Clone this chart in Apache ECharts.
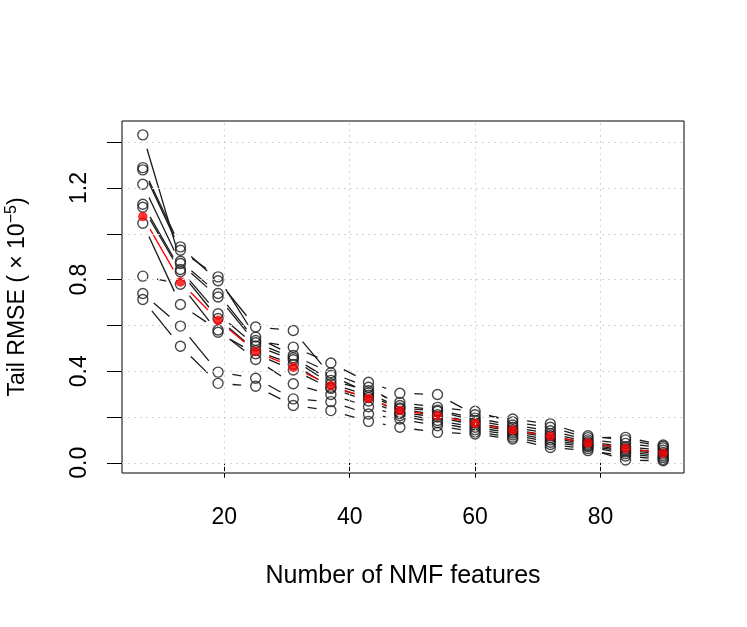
<!DOCTYPE html>
<html>
<head>
<meta charset="utf-8">
<script src="https://cdn.jsdelivr.net/npm/echarts@6/dist/echarts.min.js"></script>
<style>
  html, body { margin: 0; padding: 0; background: #fff; }
  #chart { width: 747px; height: 627px; }
</style>
</head>
<body>
<div id="chart"></div>
<script>
// number of NMF features used in each fit
const features = [7, 13, 19, 25, 31, 37, 43, 48, 54, 60, 66, 72, 78, 84, 90]

// tail RMSE (x1e-5) of the ten individual runs
const runA = [1.432, 0.880, 0.739, 0.534, 0.505, 0.436, 0.352, 0.304, 0.298, 0.210, 0.191, 0.170, 0.118, 0.100, 0.072]
const runB = [1.289, 0.943, 0.795, 0.593, 0.578, 0.381, 0.305, 0.240, 0.225, 0.185, 0.155, 0.128, 0.092, 0.070, 0.055]
const runC = [1.279, 0.928, 0.812, 0.549, 0.469, 0.393, 0.330, 0.250, 0.230, 0.195, 0.165, 0.140, 0.100, 0.085, 0.065]
const runD = [1.216, 0.870, 0.724, 0.524, 0.459, 0.360, 0.315, 0.264, 0.242, 0.225, 0.178, 0.155, 0.110, 0.111, 0.078]
const runE = [1.129, 0.844, 0.651, 0.510, 0.450, 0.345, 0.295, 0.235, 0.210, 0.175, 0.145, 0.118, 0.086, 0.062, 0.045]
const runF = [1.116, 0.834, 0.630, 0.490, 0.430, 0.330, 0.285, 0.220, 0.200, 0.165, 0.138, 0.110, 0.080, 0.055, 0.038]
const runG = [1.046, 0.691, 0.580, 0.451, 0.345, 0.298, 0.245, 0.206, 0.175, 0.145, 0.122, 0.090, 0.070, 0.040, 0.022]
const runH = [0.815, 0.780, 0.570, 0.476, 0.405, 0.325, 0.270, 0.215, 0.185, 0.155, 0.130, 0.100, 0.075, 0.048, 0.030]
const runI = [0.739, 0.597, 0.396, 0.369, 0.279, 0.267, 0.213, 0.191, 0.162, 0.135, 0.112, 0.080, 0.062, 0.012, 0.009]
const runJ = [0.713, 0.509, 0.347, 0.334, 0.250, 0.228, 0.181, 0.155, 0.133, 0.126, 0.104, 0.067, 0.053, 0.030, 0.015]

// mean over runs (red)
const meanRmse = [1.075, 0.790, 0.622, 0.486, 0.417, 0.337, 0.281, 0.228, 0.206, 0.172, 0.143, 0.116, 0.086, 0.063, 0.042]

const xTicks = [20, 40, 60, 80]
const yTicks = [0, 0.2, 0.4, 0.6, 0.8, 1.0, 1.2, 1.4]
const yLabels = [0, 0.4, 0.8, 1.2]

const runs = [runA, runB, runC, runD, runE, runF, runG, runH, runI, runJ]
const FONT = 'Liberation Sans, Arial, Helvetica, sans-serif'
const GAP = 14.5 // like R type="b": lines stop short of the points

function toPoints(vals) {
  return features.map((x, i) => [x, vals[i]])
}

function toSegments(vals) {
  const segs = []
  for (let i = 0; i < features.length - 1; i++) {
    segs.push([features[i], vals[i], features[i + 1], vals[i + 1]])
  }
  return segs
}

function segmentRenderer(color) {
  return function (params, api) {
    const p1 = api.coord([api.value(0), api.value(1)])
    const p2 = api.coord([api.value(2), api.value(3)])
    const dx = p2[0] - p1[0]
    const dy = p2[1] - p1[1]
    const len = Math.hypot(dx, dy)
    if (len <= 2 * GAP) return null
    const f = GAP / len
    return {
      type: 'line',
      shape: { x1: p1[0] + f * dx, y1: p1[1] + f * dy, x2: p2[0] - f * dx, y2: p2[1] - f * dy },
      style: { stroke: color, lineWidth: 1.3 }
    }
  }
}

const gridLines = xTicks.map(v => ({ xAxis: v })).concat(yTicks.map(v => ({ yAxis: v })))

const chart = echarts.init(document.getElementById('chart'))

chart.setOption({
  animation: false,
  backgroundColor: '#fff',
  textStyle: { fontFamily: FONT },
  grid: {
    left: 122, right: 63, top: 121, bottom: 154,
    outerBoundsMode: 'none',
    containLabel: false,
    show: true, borderColor: '#000', borderWidth: 1, backgroundColor: 'transparent'
  },
  xAxis: {
    type: 'value',
    min: 3.68,
    max: 93.32,
    axisLine: { show: false },
    splitLine: { show: false },
    axisTick: { show: true, length: 15, customValues: xTicks, lineStyle: { color: '#000', width: 1 } },
    axisLabel: { customValues: xTicks, margin: 33, fontSize: 23, color: '#000', fontFamily: FONT },
    name: 'Number of NMF features',
    nameLocation: 'middle',
    nameGap: 91,
    nameTextStyle: { fontSize: 25, color: '#000', fontFamily: FONT }
  },
  yAxis: {
    type: 'value',
    min: -0.0445,
    max: 1.4925,
    axisLine: { show: false },
    splitLine: { show: false },
    axisTick: { show: true, length: 15, customValues: yTicks, lineStyle: { color: '#000', width: 1 } },
    axisLabel: {
      customValues: yLabels, rotate: 90, margin: 31, fontSize: 23, color: '#000', fontFamily: FONT,
      formatter: v => v.toFixed(1)
    },
    name: '{m|Tail RMSE ( × 10}{s|−5}{m|)}',
    nameLocation: 'middle',
    nameRotate: 90,
    nameGap: 90,
    nameTextStyle: {
      color: '#000',
      rich: {
        m: { fontSize: 23, color: '#000', fontFamily: FONT },
        s: { fontSize: 16, color: '#000', fontFamily: FONT, padding: [0, 0, 12, 0] }
      }
    }
  },
  series: [
    {
      type: 'custom',
      name: 'runs-lines',
      renderItem: segmentRenderer('#1a1a1a'),
      encode: { x: [0, 2], y: [1, 3] },
      data: runs.flatMap(toSegments),
      silent: true,
      markLine: {
        silent: true,
        symbol: 'none',
        label: { show: false },
        lineStyle: { color: '#d3d3d3', type: [2, 4], width: 1 },
        data: gridLines
      }
    },
    {
      type: 'scatter',
      name: 'runs',
      symbol: 'circle',
      symbolSize: 10,
      itemStyle: { color: 'transparent', borderColor: '#1a1a1a', borderWidth: 1.4 },
      data: runs.flatMap(toPoints)
    },
    {
      type: 'custom',
      name: 'mean-lines',
      renderItem: segmentRenderer('#ff0000'),
      encode: { x: [0, 2], y: [1, 3] },
      data: toSegments(meanRmse),
      silent: true
    },
    {
      type: 'scatter',
      name: 'mean',
      symbol: 'circle',
      symbolSize: 9.5,
      itemStyle: { color: '#ff0000' },
      data: toPoints(meanRmse)
    }
  ]
})
</script>
</body>
</html>
